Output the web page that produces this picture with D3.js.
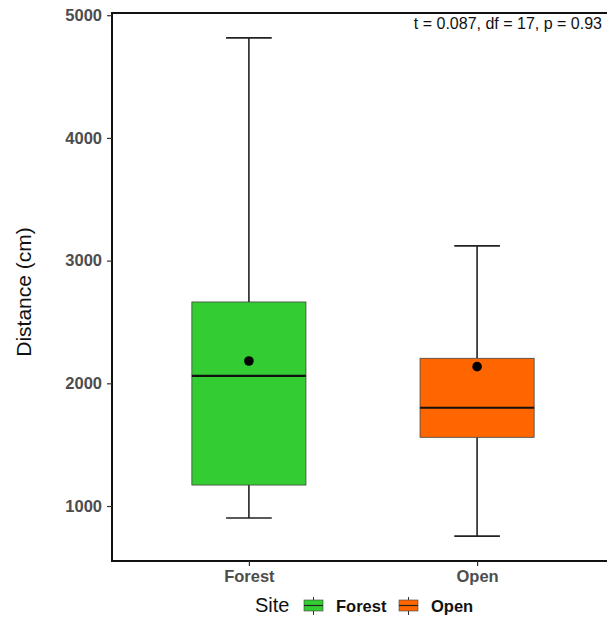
<!DOCTYPE html>
<html>
<head>
<meta charset="utf-8">
<script src="https://cdn.jsdelivr.net/npm/d3@7"></script>
<style>
  html, body { margin: 0; padding: 0; background: #fff; }
  svg { display: block; font-family: 'Liberation Sans', Arial, sans-serif; }
</style>
</head>
<body>
<svg id="chart" width="607" height="618"></svg>
<script>
// box summary per site (cm)
const sites = ['Forest', 'Open'];
const colors = ['#33CC33', '#FF6600'];
const whiskerLow = [902, 755];
const q1 = [1171, 1560];
const median = [2060, 1801];
const q3 = [2663, 2204];
const whiskerHigh = [4815, 3120];
const means = [2182, 2136];
const yTicks = [1000, 2000, 3000, 4000, 5000];
const statLabel = 't = 0.087, df = 17, p = 0.93';

const panel = { left: 112, top: 13, right: 614, bottom: 561 };

const svg = d3.select('#chart');

const x = d3.scalePoint().domain(sites).range([panel.left, panel.right]).padding(0.6);
const y = d3.scaleLinear().domain([552, 5018]).range([panel.bottom, panel.top]);
const step = x.step();
const boxW = step * 0.5, capW = step * 0.2;

const rows = sites.map((s, i) => ({
  site: s, color: colors[i], lo: whiskerLow[i], q1: q1[i], med: median[i],
  q3: q3[i], hi: whiskerHigh[i], mean: means[i],
}));

const g = svg.append('g');

// whiskers + caps
rows.forEach(d => {
  const cx = x(d.site);
  g.append('line').attr('x1', cx).attr('x2', cx).attr('y1', y(d.hi)).attr('y2', y(d.q3))
    .attr('stroke', '#222').attr('stroke-width', 1.6);
  g.append('line').attr('x1', cx).attr('x2', cx).attr('y1', y(d.q1)).attr('y2', y(d.lo))
    .attr('stroke', '#222').attr('stroke-width', 1.6);
  [d.hi, d.lo].forEach(v => {
    g.append('line').attr('x1', cx - capW / 2).attr('x2', cx + capW / 2)
      .attr('y1', y(v)).attr('y2', y(v)).attr('stroke', '#222').attr('stroke-width', 1.6);
  });
});

// boxes
g.selectAll('.box').data(rows).enter().append('rect')
  .attr('x', d => x(d.site) - boxW / 2).attr('width', boxW)
  .attr('y', d => y(d.q3)).attr('height', d => y(d.q1) - y(d.q3))
  .attr('fill', d => d.color).attr('stroke', '#444').attr('stroke-width', 0.8);

// medians
g.selectAll('.med').data(rows).enter().append('line')
  .attr('x1', d => x(d.site) - boxW / 2).attr('x2', d => x(d.site) + boxW / 2)
  .attr('y1', d => y(d.med)).attr('y2', d => y(d.med))
  .attr('stroke', '#111').attr('stroke-width', 2.2);

// means
g.selectAll('.mean').data(rows).enter().append('circle')
  .attr('cx', d => x(d.site)).attr('cy', d => y(d.mean)).attr('r', 4.8).attr('fill', '#000');

// panel border (right edge falls outside the view)
svg.append('rect')
  .attr('x', panel.left).attr('y', panel.top)
  .attr('width', panel.right - panel.left).attr('height', panel.bottom - panel.top)
  .attr('fill', 'none').attr('stroke', '#111').attr('stroke-width', 2);

// y axis
const yAxis = svg.append('g').attr('transform', `translate(${panel.left},0)`)
  .call(d3.axisLeft(y).tickValues(yTicks).tickSize(5).tickPadding(5).tickFormat(d3.format('d')));
yAxis.select('.domain').remove();
yAxis.selectAll('.tick line').attr('stroke', '#333').attr('stroke-width', 1.2);
yAxis.selectAll('.tick text').attr('fill', '#4d4d4d')
  .style('font-size', '16.5px').style('font-weight', '700');

// x axis
const xAxis = svg.append('g').attr('transform', `translate(0,${panel.bottom})`)
  .call(d3.axisBottom(x).tickSize(5).tickPadding(4));
xAxis.select('.domain').remove();
xAxis.selectAll('.tick line').attr('stroke', '#333').attr('stroke-width', 1.2);
xAxis.selectAll('.tick text').attr('fill', '#4d4d4d')
  .style('font-size', '16.5px').style('font-weight', '700');

// axis title
svg.append('text')
  .attr('transform', `translate(31,292) rotate(-90)`)
  .attr('text-anchor', 'middle').attr('fill', '#111')
  .style('font-size', '21px').text('Distance (cm)');

// stat annotation
svg.append('text')
  .attr('x', 602).attr('y', 29).attr('text-anchor', 'end').attr('fill', '#111')
  .style('font-size', '16px').text(statLabel);

// legend
const leg = svg.append('g');
leg.append('text').attr('x', 255).attr('y', 612).attr('fill', '#111')
  .style('font-size', '20px').text('Site');
const keyX = [304, 399];
rows.forEach((d, i) => {
  const kx = keyX[i], kw = 19, cx = kx + kw / 2;
  leg.append('line').attr('x1', cx).attr('x2', cx).attr('y1', 597).attr('y2', 615)
    .attr('stroke', '#333').attr('stroke-width', 1);
  leg.append('rect').attr('x', kx).attr('y', 600).attr('width', kw).attr('height', 11)
    .attr('fill', d.color).attr('stroke', '#444').attr('stroke-width', 0.6);
  leg.append('line').attr('x1', kx).attr('x2', kx + kw).attr('y1', 605.5).attr('y2', 605.5)
    .attr('stroke', '#222').attr('stroke-width', 1.2);
  leg.append('text').attr('x', kx + 32).attr('y', 612).attr('fill', '#111')
    .style('font-size', '16.5px').style('font-weight', '700').text(d.site);
});
</script>
</body>
</html>
